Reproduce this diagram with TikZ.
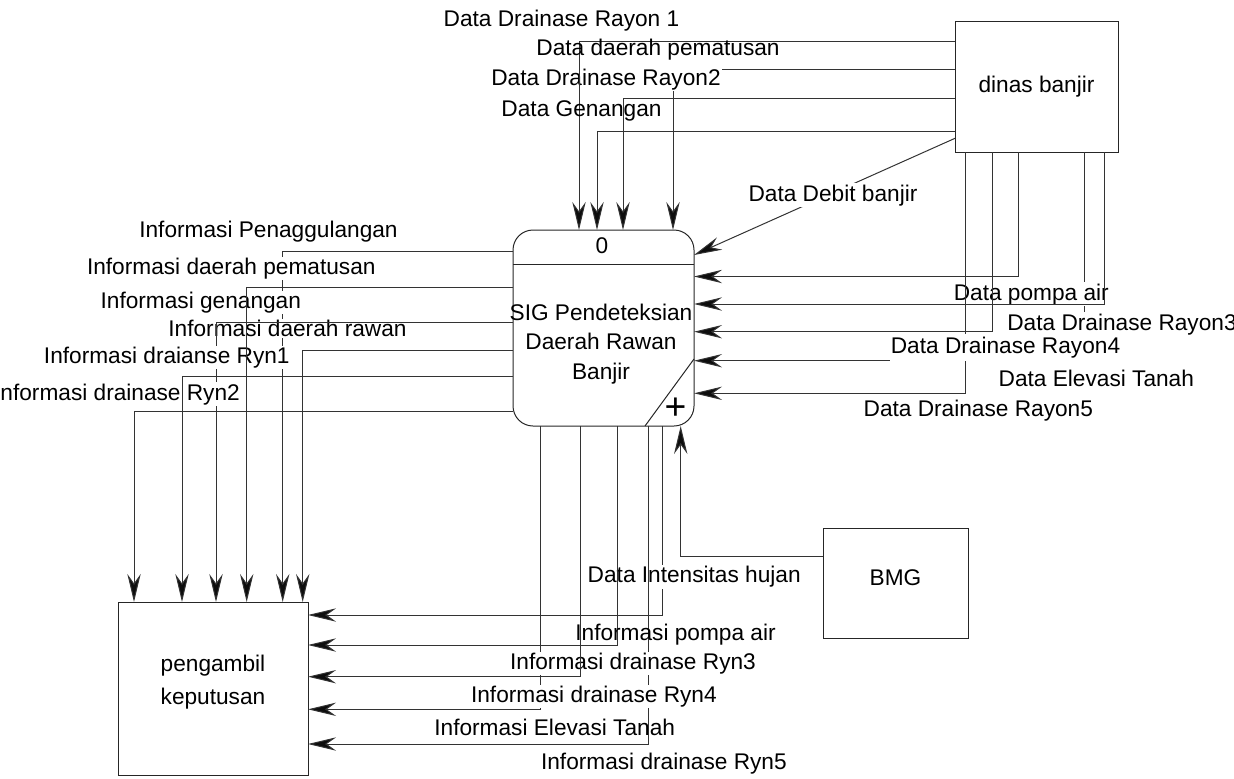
\documentclass[tikz,border=0pt]{standalone}
\usepackage{fontspec}
\setmainfont{Liberation Sans}
\usetikzlibrary{arrows.meta}
\begin{document}
\begin{tikzpicture}[x=0.75pt,y=-0.75pt,
  font=\fontsize{17pt}{22pt}\selectfont,
  box/.style={draw=black!85, line width=0.75pt, inner sep=0pt, outer sep=0pt},
  outline/.style={draw=black!85, line width=0.75pt},
  flow/.style={draw=black!80, line width=0.75pt,
    -{Stealth[length=21pt,width=10pt,inset=7pt,fill=black!95]}},
  lbl/.style={anchor=base, inner sep=1pt},
  mask/.style={lbl, fill=white},
]
\useasboundingbox (0,0) rectangle (1234,778);

% external entities and the process
\node[box, minimum width=122.25pt, minimum height=98.25pt] (din) at (1036.5,86.5) {dinas banjir};
\node[box, rounded corners=15pt, minimum width=135.75pt, minimum height=147pt] (proc) at (603.5,328) {};
\node[box, minimum width=108.75pt, minimum height=82.5pt] (bmg) at (895.5,583) {};
\node[lbl] (bmgtext) at (895.5,585.7) {BMG};
\node[box, minimum width=142.5pt, minimum height=129.75pt] (peng) at (213,688.5) {};
\node[align=center, inner sep=0pt, font=\fontsize{17pt}{24.5pt}\selectfont] (pengtext) at (213,682) {pengambil\\keputusan};

% process header, name and marker
\draw[outline] (proc.west |- 0,264) -- (proc.east |- 0,264);
\node[lbl] (pid) at (602,253.3) {0};
\node[align=center, inner sep=0pt] (pname) at (601,344.1) {SIG Pendeteksian\\Daerah Rawan\\Banjir};
\draw[outline] (proc.south -| 645,0) -- (proc.east |- 0,359);
\node[font=\fontsize{28pt}{28pt}\selectfont, inner sep=0pt] (pplus) at (675.5,409) {+};

% flows from dinas banjir into the top of the process
\draw[flow] (din.west |- 0,69) -| (proc.north -| 673,0);
\node[mask] (l-dr2) at (606,85.3) {Data Drainase Rayon2};
\draw[flow] (din.west |- 0,41) -| (proc.north -| 579,0);
\draw[flow] (din.west |- 0,98) -| (proc.north -| 623,0);
\draw[flow] (din.west |- 0,131) -| (proc.north -| 597,0);
\node[lbl] (l-dr1) at (561.5,26.7) {Data Drainase Rayon 1};
\node[lbl] (l-dpm) at (658,55) {Data daerah pematusan};
\node[lbl] (l-dgn) at (581.5,116.7) {Data Genangan};

% debit flow
\draw[flow] (din.west |- 0,138.3) -- (proc.east |- 0,255);
\node[mask] (l-deb) at (833,201) {Data Debit banjir};

% flows from dinas banjir into the right side of the process
\draw[flow] (din.south -| 1084,0) |- (proc.east |- 0,360.7);
\node[mask] (l-pompa) at (1031.3,300) {Data pompa air};
\node[mask] (l-dr3) at (1122,330) {Data Drainase Rayon3};
\draw[flow] (din.south -| 965,0) |- (proc.east |- 0,393.3);
\node[mask, inner ysep=2.5pt] (l-dr4) at (1005.5,353.3) {Data Drainase Rayon4};
\draw[flow] (din.south -| 992,0) |- (proc.east |- 0,331.7);
\draw[flow] (din.south -| 1018,0) |- (proc.east |- 0,276.5);
\draw[flow] (din.south -| 1104,0) |- (proc.east |- 0,304);
\node[lbl] (l-elv) at (1096.3,386.7) {Data Elevasi Tanah};
\node[lbl] (l-dr5) at (978.3,416.7) {Data Drainase Rayon5};

% flows from the process to pengambil keputusan (top side)
\draw[flow] (proc.west |- 0,251.7) -| (peng.north -| 282.7,0);
\node[mask] (l-ipm) at (231.3,274.3) {Informasi daerah pematusan};
\node[mask] (l-ign) at (200.8,308.3) {Informasi genangan};
\node[mask] (l-irw) at (287.5,336.7) {Informasi daerah rawan};
\draw[flow] (proc.west |- 0,322.7) -| (peng.north -| 216,0);
\node[mask] (l-ir1) at (166.8,363.3) {Informasi draianse Ryn1};
\node[mask] (l-ir2) at (117,400) {Informasi drainase Ryn2};
\draw[flow] (proc.west |- 0,287) -| (peng.north -| 246.7,0);
\draw[flow] (proc.west |- 0,350.7) -| (peng.north -| 302.7,0);
\draw[flow] (proc.west |- 0,376.7) -| (peng.north -| 182,0);
\draw[flow] (proc.west |- 0,411.7) -| (peng.north -| 134,0);
\node[lbl] (l-ipg) at (268.5,237.7) {Informasi Penaggulangan};

% rainfall from BMG
\draw[flow] (bmg.west |- 0,556.7) -| (proc.south -| 680.7,0);

% flows from the process to pengambil keputusan (right side)
\draw[flow] (proc.south -| 662,0) |- (peng.east |- 0,615);
\node[mask] (l-int) at (694.2,582.7) {Data Intensitas hujan};
\draw[flow] (proc.south -| 540.7,0) |- (peng.east |- 0,709.3);
\draw[flow] (proc.south -| 648,0) |- (peng.east |- 0,744);
\node[mask] (l-ir3) at (633,669.3) {Informasi drainase Ryn3};
\node[mask] (l-ir4) at (593.9,702.3) {Informasi drainase Ryn4};
\draw[flow] (proc.south -| 580.3,0) |- (peng.east |- 0,676.7);
\draw[flow] (proc.south -| 617.7,0) |- (peng.east |- 0,645);
\node[lbl] (l-ipa) at (675.5,640) {Informasi pompa air};
\node[lbl] (l-iel) at (554.7,735) {Informasi Elevasi Tanah};
\node[lbl] (l-ir5) at (663.9,769.3) {Informasi drainase Ryn5};
\end{tikzpicture}
\end{document}
